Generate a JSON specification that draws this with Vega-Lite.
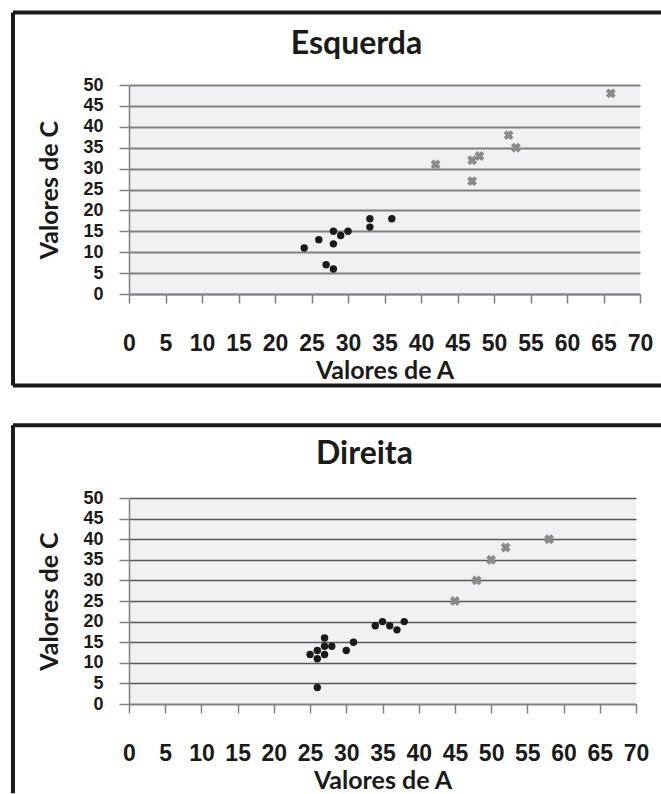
{
  "$schema": "https://vega.github.io/schema/vega-lite/v6.json",
  "padding": {"left": 10, "top": 10, "right": 0, "bottom": 0},
  "autosize": {"type": "pad"},
  "spacing": 35,
  "datasets": {
    "pts": [
      {"painel": "Esquerda", "tipo": "circulo", "A": 24, "C": 11},
      {"painel": "Esquerda", "tipo": "circulo", "A": 26, "C": 13},
      {"painel": "Esquerda", "tipo": "circulo", "A": 28, "C": 15},
      {"painel": "Esquerda", "tipo": "circulo", "A": 28, "C": 12},
      {"painel": "Esquerda", "tipo": "circulo", "A": 29, "C": 14},
      {"painel": "Esquerda", "tipo": "circulo", "A": 30, "C": 15},
      {"painel": "Esquerda", "tipo": "circulo", "A": 27, "C": 7},
      {"painel": "Esquerda", "tipo": "circulo", "A": 28, "C": 6},
      {"painel": "Esquerda", "tipo": "circulo", "A": 33, "C": 18},
      {"painel": "Esquerda", "tipo": "circulo", "A": 33, "C": 16},
      {"painel": "Esquerda", "tipo": "circulo", "A": 36, "C": 18},
      {"painel": "Esquerda", "tipo": "xis", "A": 42, "C": 31},
      {"painel": "Esquerda", "tipo": "xis", "A": 47, "C": 32},
      {"painel": "Esquerda", "tipo": "xis", "A": 48, "C": 33},
      {"painel": "Esquerda", "tipo": "xis", "A": 47, "C": 27},
      {"painel": "Esquerda", "tipo": "xis", "A": 52, "C": 38},
      {"painel": "Esquerda", "tipo": "xis", "A": 53, "C": 35},
      {"painel": "Esquerda", "tipo": "xis", "A": 66, "C": 48},
      {"painel": "Direita", "tipo": "circulo", "A": 25, "C": 12},
      {"painel": "Direita", "tipo": "circulo", "A": 26, "C": 13},
      {"painel": "Direita", "tipo": "circulo", "A": 26, "C": 11},
      {"painel": "Direita", "tipo": "circulo", "A": 27, "C": 16},
      {"painel": "Direita", "tipo": "circulo", "A": 27, "C": 14},
      {"painel": "Direita", "tipo": "circulo", "A": 27, "C": 12},
      {"painel": "Direita", "tipo": "circulo", "A": 28, "C": 14},
      {"painel": "Direita", "tipo": "circulo", "A": 26, "C": 4},
      {"painel": "Direita", "tipo": "circulo", "A": 30, "C": 13},
      {"painel": "Direita", "tipo": "circulo", "A": 31, "C": 15},
      {"painel": "Direita", "tipo": "circulo", "A": 34, "C": 19},
      {"painel": "Direita", "tipo": "circulo", "A": 35, "C": 20},
      {"painel": "Direita", "tipo": "circulo", "A": 36, "C": 19},
      {"painel": "Direita", "tipo": "circulo", "A": 37, "C": 18},
      {"painel": "Direita", "tipo": "circulo", "A": 38, "C": 20},
      {"painel": "Direita", "tipo": "xis", "A": 45, "C": 25},
      {"painel": "Direita", "tipo": "xis", "A": 48, "C": 30},
      {"painel": "Direita", "tipo": "xis", "A": 50, "C": 35},
      {"painel": "Direita", "tipo": "xis", "A": 52, "C": 38},
      {"painel": "Direita", "tipo": "xis", "A": 58, "C": 40}
    ],
    "moldura": [{"id": 1}]
  },
  "vconcat": [
    {
      "width": 511,
      "height": 209,
      "title": {"text": "Esquerda", "offset": -50.5, "dx": -28},
      "layer": [
        {
          "data": {"name": "pts"},
          "transform": [{"filter": "datum.painel === 'Esquerda' && datum.tipo === 'circulo'"}],
          "mark": {"type": "point", "shape": "circle", "filled": true, "size": 55, "color": "#1a1a1a", "opacity": 1},
          "encoding": {
            "x": {"field": "A", "type": "quantitative", "scale": {"domain": [0, 70], "nice": false}, "axis": {"values": [0,5,10,15,20,25,30,35,40,45,50,55,60,65,70], "title": "Valores de A"}},
            "y": {"field": "C", "type": "quantitative", "scale": {"domain": [0, 50], "nice": false}, "axis": {"values": [0,5,10,15,20,25,30,35,40,45,50], "title": "Valores de C"}}
          }
        },
        {
          "data": {"name": "pts"},
          "transform": [{"filter": "datum.painel === 'Esquerda' && datum.tipo === 'xis'"}],
          "mark": {"type": "point", "shape": "cross", "angle": 45, "filled": true, "size": 100, "color": "#8a8a8a", "opacity": 1},
          "encoding": {
            "x": {"field": "A", "type": "quantitative", "axis": {"values": [0,5,10,15,20,25,30,35,40,45,50,55,60,65,70], "title": "Valores de A"}},
            "y": {"field": "C", "type": "quantitative", "axis": {"values": [0,5,10,15,20,25,30,35,40,45,50], "title": "Valores de C"}}
          }
        },
        {
          "data": {"name": "moldura"},
          "mark": {"type": "rule", "color": "#1a1a1a", "strokeWidth": 4},
          "encoding": {
            "x": {"datum": -15.89, "type": "quantitative", "axis": {"values": [0,5,10,15,20,25,30,35,40,45,50,55,60,65,70], "title": "Valores de A"}},
            "x2": {"datum": 73.0},
            "y": {"datum": 67.34, "type": "quantitative", "axis": {"values": [0,5,10,15,20,25,30,35,40,45,50], "title": "Valores de C"}}
          }
        },
        {
          "data": {"name": "moldura"},
          "mark": {"type": "rule", "color": "#1a1a1a", "strokeWidth": 4},
          "encoding": {
            "x": {"datum": -15.89, "type": "quantitative", "axis": {"values": [0,5,10,15,20,25,30,35,40,45,50,55,60,65,70], "title": "Valores de A"}},
            "x2": {"datum": 73.0},
            "y": {"datum": -21.89, "type": "quantitative", "axis": {"values": [0,5,10,15,20,25,30,35,40,45,50], "title": "Valores de C"}}
          }
        },
        {
          "data": {"name": "moldura"},
          "mark": {"type": "rule", "color": "#1a1a1a", "strokeWidth": 4},
          "encoding": {
            "x": {"datum": -15.89, "type": "quantitative", "axis": {"values": [0,5,10,15,20,25,30,35,40,45,50,55,60,65,70], "title": "Valores de A"}},
            "y": {"datum": 67.34, "type": "quantitative", "axis": {"values": [0,5,10,15,20,25,30,35,40,45,50], "title": "Valores de C"}},
            "y2": {"datum": -21.89}
          }
        }
      ]
    },
    {
      "width": 507,
      "height": 206,
      "title": {"text": "Direita", "offset": -48, "dx": -18},
      "layer": [
        {
          "data": {"name": "pts"},
          "transform": [{"filter": "datum.painel === 'Direita' && datum.tipo === 'circulo'"}],
          "mark": {"type": "point", "shape": "circle", "filled": true, "size": 55, "color": "#1a1a1a", "opacity": 1},
          "encoding": {
            "x": {"field": "A", "type": "quantitative", "scale": {"domain": [0, 70], "nice": false}, "axis": {"values": [0,5,10,15,20,25,30,35,40,45,50,55,60,65,70], "title": "Valores de A"}},
            "y": {"field": "C", "type": "quantitative", "scale": {"domain": [0, 50], "nice": false}, "axis": {"values": [0,5,10,15,20,25,30,35,40,45,50], "title": "Valores de C", "gridColor": "#5a5a5a", "gridWidth": 1.5}}
          }
        },
        {
          "data": {"name": "pts"},
          "transform": [{"filter": "datum.painel === 'Direita' && datum.tipo === 'xis'"}],
          "mark": {"type": "point", "shape": "cross", "angle": 45, "filled": true, "size": 100, "color": "#8a8a8a", "opacity": 1},
          "encoding": {
            "x": {"field": "A", "type": "quantitative", "axis": {"values": [0,5,10,15,20,25,30,35,40,45,50,55,60,65,70], "title": "Valores de A"}},
            "y": {"field": "C", "type": "quantitative", "axis": {"values": [0,5,10,15,20,25,30,35,40,45,50], "title": "Valores de C", "gridColor": "#5a5a5a", "gridWidth": 1.5}}
          }
        },
        {
          "data": {"name": "moldura"},
          "mark": {"type": "rule", "color": "#1a1a1a", "strokeWidth": 4},
          "encoding": {
            "x": {"datum": -16.02, "type": "quantitative", "axis": {"values": [0,5,10,15,20,25,30,35,40,45,50,55,60,65,70], "title": "Valores de A"}},
            "x2": {"datum": 73.6},
            "y": {"datum": 67.65, "type": "quantitative", "axis": {"values": [0,5,10,15,20,25,30,35,40,45,50], "title": "Valores de C", "gridColor": "#5a5a5a", "gridWidth": 1.5}}
          }
        },
        {
          "data": {"name": "moldura"},
          "mark": {"type": "rule", "color": "#1a1a1a", "strokeWidth": 4},
          "encoding": {
            "x": {"datum": -16.02, "type": "quantitative", "axis": {"values": [0,5,10,15,20,25,30,35,40,45,50,55,60,65,70], "title": "Valores de A"}},
            "y": {"datum": 67.65, "type": "quantitative", "axis": {"values": [0,5,10,15,20,25,30,35,40,45,50], "title": "Valores de C", "gridColor": "#5a5a5a", "gridWidth": 1.5}},
            "y2": {"datum": -21.67}
          }
        }
      ]
    }
  ],
  "config": {
    "font": "Lato",
    "view": {"fill": "#f0f1f3", "stroke": null},
    "axis": {
      "labelFont": "Liberation Sans", "labelFontSize": 23, "labelFontWeight": "bold", "labelColor": "#1a1a1a",
      "titleFont": "Lato", "titleFontSize": 25, "titleFontWeight": "bold", "titleColor": "#1a1a1a",
      "labelOverlap": false, "labelFlush": false,
      "domainColor": "#808080", "domainWidth": 1.5,
      "tickColor": "#808080", "tickWidth": 1.5,
      "gridColor": "#808080", "gridWidth": 2
    },
    "axisX": {"grid": false, "tickSize": 9, "labelPadding": 29, "titlePadding": 3},
    "axisY": {"grid": true, "tickSize": 10, "labelPadding": 16, "titlePadding": 20, "labelFontSize": 18},
    "title": {"font": "Lato", "fontSize": 32, "fontWeight": "bold", "color": "#1a1a1a", "baseline": "alphabetic", "frame": "group", "anchor": "middle"}
  }
}
